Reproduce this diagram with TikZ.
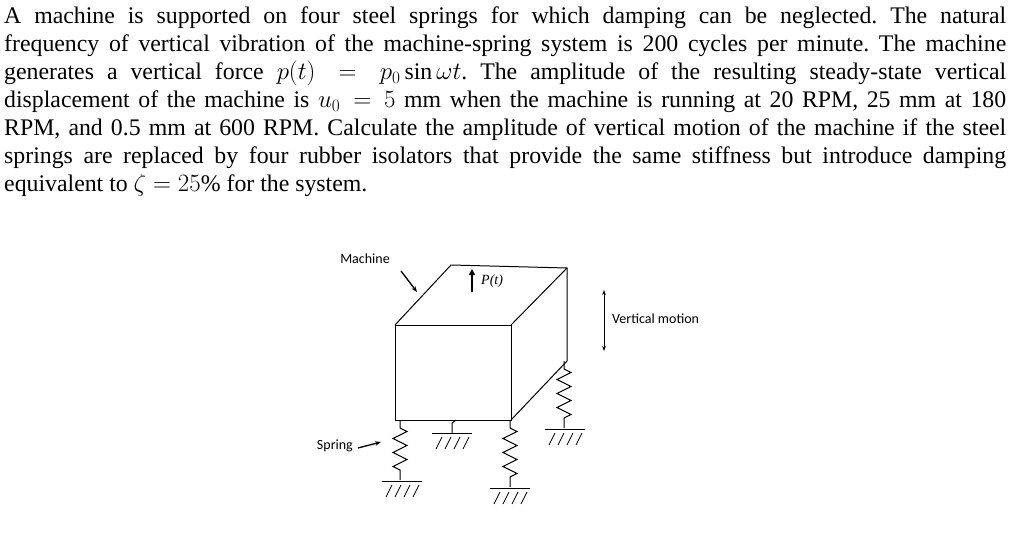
\documentclass[tikz,border=0pt]{standalone}
\usepackage{fontspec}
\setmainfont{Liberation Serif}
\newfontfamily\lab{Carlito}
\usetikzlibrary{decorations.pathmorphing,arrows.meta}
\begin{document}
\frenchspacing
\begin{tikzpicture}[x=1pt,y=-1pt,
  ln/.style={line width=1pt},
  spr/.style={ln,decorate,decoration={zigzag,amplitude=7pt,segment length=14pt,pre length=8pt,post length=8pt}},
  lbl/.style={font=\lab\fontsize{14}{16}\selectfont,inner sep=0pt}]
\useasboundingbox (0,0) rectangle (1024,540);
\node[anchor=north west,inner sep=0pt,text width=1002pt,align=justify,font=\fontsize{23.8}{28}\selectfont] (txt) at (4,7)
{A machine is supported on four steel springs for which damping can be neglected. The natural\linebreak frequency of vertical vibration of the machine-spring system is 200 cycles per minute. The machine\linebreak generates a vertical force $p(t)=p_0\sin\omega t$. The amplitude of the resulting steady-state vertical\linebreak displacement of the machine is $u_0=5$ mm when the machine is running at 20 RPM, 25 mm at 180\linebreak RPM, and 0.5 mm at 600 RPM. Calculate the amplitude of vertical motion of the machine if the steel\linebreak springs are replaced by four rubber isolators that provide the same stiffness but introduce damping\linebreak equivalent to $\zeta=25\%$ for the system.};
% box
\coordinate (a) at (395,325); \coordinate (b) at (511,325);
\coordinate (c) at (511,420); \coordinate (d) at (395,420);
\coordinate (e) at (451,265); \coordinate (f) at (567,268);
\coordinate (g) at (567,361);
\draw[ln] (a) rectangle (c);
\draw[ln] (a)--(e)--(f)--(b); \draw[ln] (f)--(g)--(c);
% springs
\def\ground#1#2{\draw[ln] (#1-20,#2)--(#1+20,#2);
  \foreach \i in {-14,-5,4,13} \draw[line width=0.7pt] (#1+\i+4,#2+4)--(#1+\i-2,#2+16);}
\coordinate (s1) at (400,480); \draw[spr] (400,420)--(s1); \ground{402}{481}
\coordinate (s2) at (510,487); \draw[spr] (510,420)--(s2); \ground{510}{488}
\coordinate (s4) at (564,428); \draw[spr] (564,361)--(s4); \ground{565}{429}
\draw[ln] (456,420)--(452,423)--(452,433); \ground{452}{433}
% labels
\node[lbl] (mach) at (365,259) {Machine};
\draw[-{Stealth[length=6pt]},line width=1.3pt] (401,271)--(417,292);
\node[lbl,anchor=east] (spring) at (353,446) {Spring};
\draw[-{Stealth[length=6pt]},line width=1.3pt] (358,448)--(381,442);
\draw[-{Triangle[length=6pt,width=6pt]},line width=2pt] (472,292)--(472,269);
\node[inner sep=0pt,anchor=west,font=\fontsize{14}{16}\selectfont\itshape] (pt) at (481,281) {P(t)};
\draw[{Stealth[length=5pt]}-{Stealth[length=5pt]},line width=1pt] (604,290)--(604,351);
\node[lbl,anchor=west] (vm) at (612,319) {Vertical motion};
\end{tikzpicture}
\end{document}
